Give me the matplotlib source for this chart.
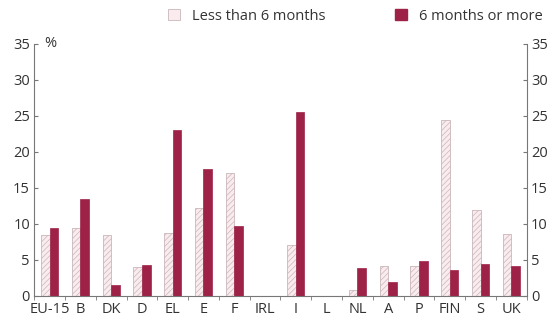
import numpy as np
import matplotlib
matplotlib.use("Agg")
import matplotlib.pyplot as plt
from matplotlib.patches import Patch

plt.rcParams['font.family'] = ['Open Sans', 'DejaVu Sans']
plt.rcParams['hatch.color'] = '#eed8de'
plt.rcParams['hatch.linewidth'] = 0.5

# data
countries = ["EU-15", "B", "DK", "D", "EL", "E", "F", "IRL", "I", "L",
             "NL", "A", "P", "FIN", "S", "UK"]
less_6 = [8.4, 9.4, 8.4, 4.0, 8.8, 12.2, 17.1, 0, 7.1, 0,
          0.8, 4.1, 4.1, 24.5, 12.0, 8.6]
more_6 = [9.4, 13.5, 1.5, 4.3, 23.0, 17.6, 9.7, 0, 25.5, 0,
          3.9, 2.0, 4.9, 3.6, 4.5, 4.2]

LIGHT = '#f9ebee'
DARK = '#9e2248'

fig = plt.figure(figsize=(5.51, 3.21), dpi=100)
ax = fig.add_axes([0.062, 0.078, 0.894, 0.785])

x = np.arange(len(countries))
w = 0.28
ax.bar(x - w / 2, less_6, w, color=LIGHT, edgecolor='#c9b6bb', linewidth=0.6,
       hatch='//////')
ax.bar(x + w / 2, more_6, w, color=DARK, edgecolor=DARK, linewidth=0.5)

ax.set_xlim(-0.5, len(countries) - 0.5)
ax.set_ylim(0, 35)
ax.set_yticks(range(0, 36, 5))
ax.set_xticks(x)
ax.set_xticklabels(countries)
ax.set_xticks(np.arange(-0.5, len(countries), 1), minor=True)

ax.spines['top'].set_visible(False)
for s in ['left', 'right', 'bottom']:
    ax.spines[s].set_color('#777777')
    ax.spines[s].set_linewidth(0.8)

ax.tick_params(axis='x', which='major', length=0, labelsize=10.5, pad=4,
               colors='#333333')
ax.tick_params(axis='x', which='minor', length=3, direction='out',
               color='#777777')
ax.tick_params(axis='y', which='both', left=True, right=True, labelleft=True,
               labelright=True, direction='in', length=3, color='#777777',
               labelsize=10.5, labelcolor='#333333', pad=3)

ax.text(0.02, 1.0, '%', transform=ax.transAxes, fontsize=10.5,
        color='#333333', va='center', ha='left')

handles = [Patch(facecolor=LIGHT, edgecolor='#c9b6bb', linewidth=0.6),
           Patch(facecolor=DARK, edgecolor=DARK)]
fig.legend(handles, ['Less than 6 months', '6 months or more'],
           loc='center', bbox_to_anchor=(0.645, 0.95), ncol=2, frameon=False,
           fontsize=10.5, handlelength=0.8, handleheight=0.8,
           columnspacing=4.8, handletextpad=0.8, labelcolor='#333333')

fig.savefig('out.png', dpi=100)
